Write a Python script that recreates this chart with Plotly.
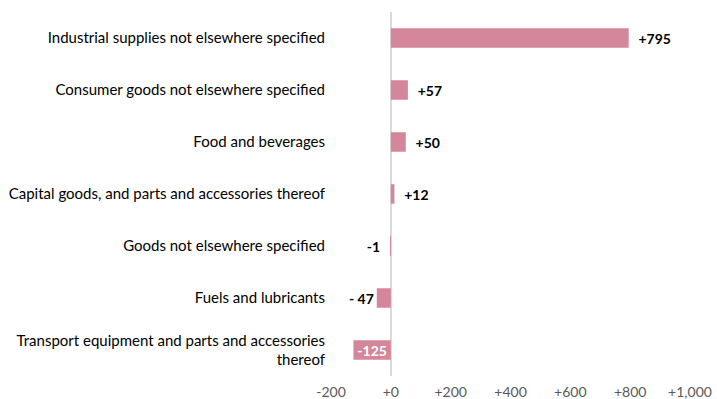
import plotly.graph_objects as go

categories = [
    "Industrial supplies not elsewhere specified",
    "Consumer goods not elsewhere specified",
    "Food and beverages",
    "Capital goods, and parts and accessories thereof",
    "Goods not elsewhere specified",
    "Fuels and lubricants",
    "Transport equipment and parts and accessories<br>thereof",
]
values = [795, 57, 50, 12, -1, -47, -125]
labels = ["+795", "+57", "+50", "+12", "-1", "- 47", "-125"]
positions = ["outside"] * 6 + ["inside"]
text_colors = ["#000000"] * 6 + ["#ffffff"]

tick_vals = [-200, 0, 200, 400, 600, 800, 1000]
tick_text = ["-200", "+0", "+200", "+400", "+600", "+800", "+1,000"]

FONT = "Lato"
NB = "\u00a0"

# small padding between bar ends and outside labels
shown = []
for v, lab, pos in zip(values, labels, positions):
    if pos == "outside" and v > 0:
        shown.append(NB * 2 + lab)
    elif pos == "outside" and v == -1:
        shown.append(lab + NB * 2)
    else:
        shown.append(lab)

fig = go.Figure(go.Bar(
    y=categories, x=values, orientation="h",
    marker=dict(color="#D4869A", line=dict(width=0)),
    text=shown, textposition=positions,
    textfont=dict(family=FONT, size=14, color=text_colors, weight="bold"),
    insidetextanchor="middle",
    cliponaxis=False,
))

fig.update_layout(
    width=717, height=399,
    margin=dict(l=331, r=27, t=12, b=23),
    plot_bgcolor="white", paper_bgcolor="white",
    bargap=0.625,
    showlegend=False,
    font=dict(family=FONT, size=14, color="#000000"),
    uniformtext=dict(mode="show", minsize=14),
)
fig.update_xaxes(
    range=[-200, 1000], tickvals=tick_vals, ticktext=tick_text,
    showgrid=False, zeroline=True, zerolinecolor="#d9d9d9", zerolinewidth=1.5,
    tickfont=dict(family=FONT, size=14, color="#595959"),
    showline=False, ticks="", automargin=False, ticklabelstandoff=6,
)
fig.update_yaxes(
    autorange="reversed", showgrid=False, ticks="", ticklen=0,
    tickfont=dict(family=FONT, size=15, color="#000000"),
    ticklabelstandoff=5, automargin=False,
)

fig.write_html("out.html")
